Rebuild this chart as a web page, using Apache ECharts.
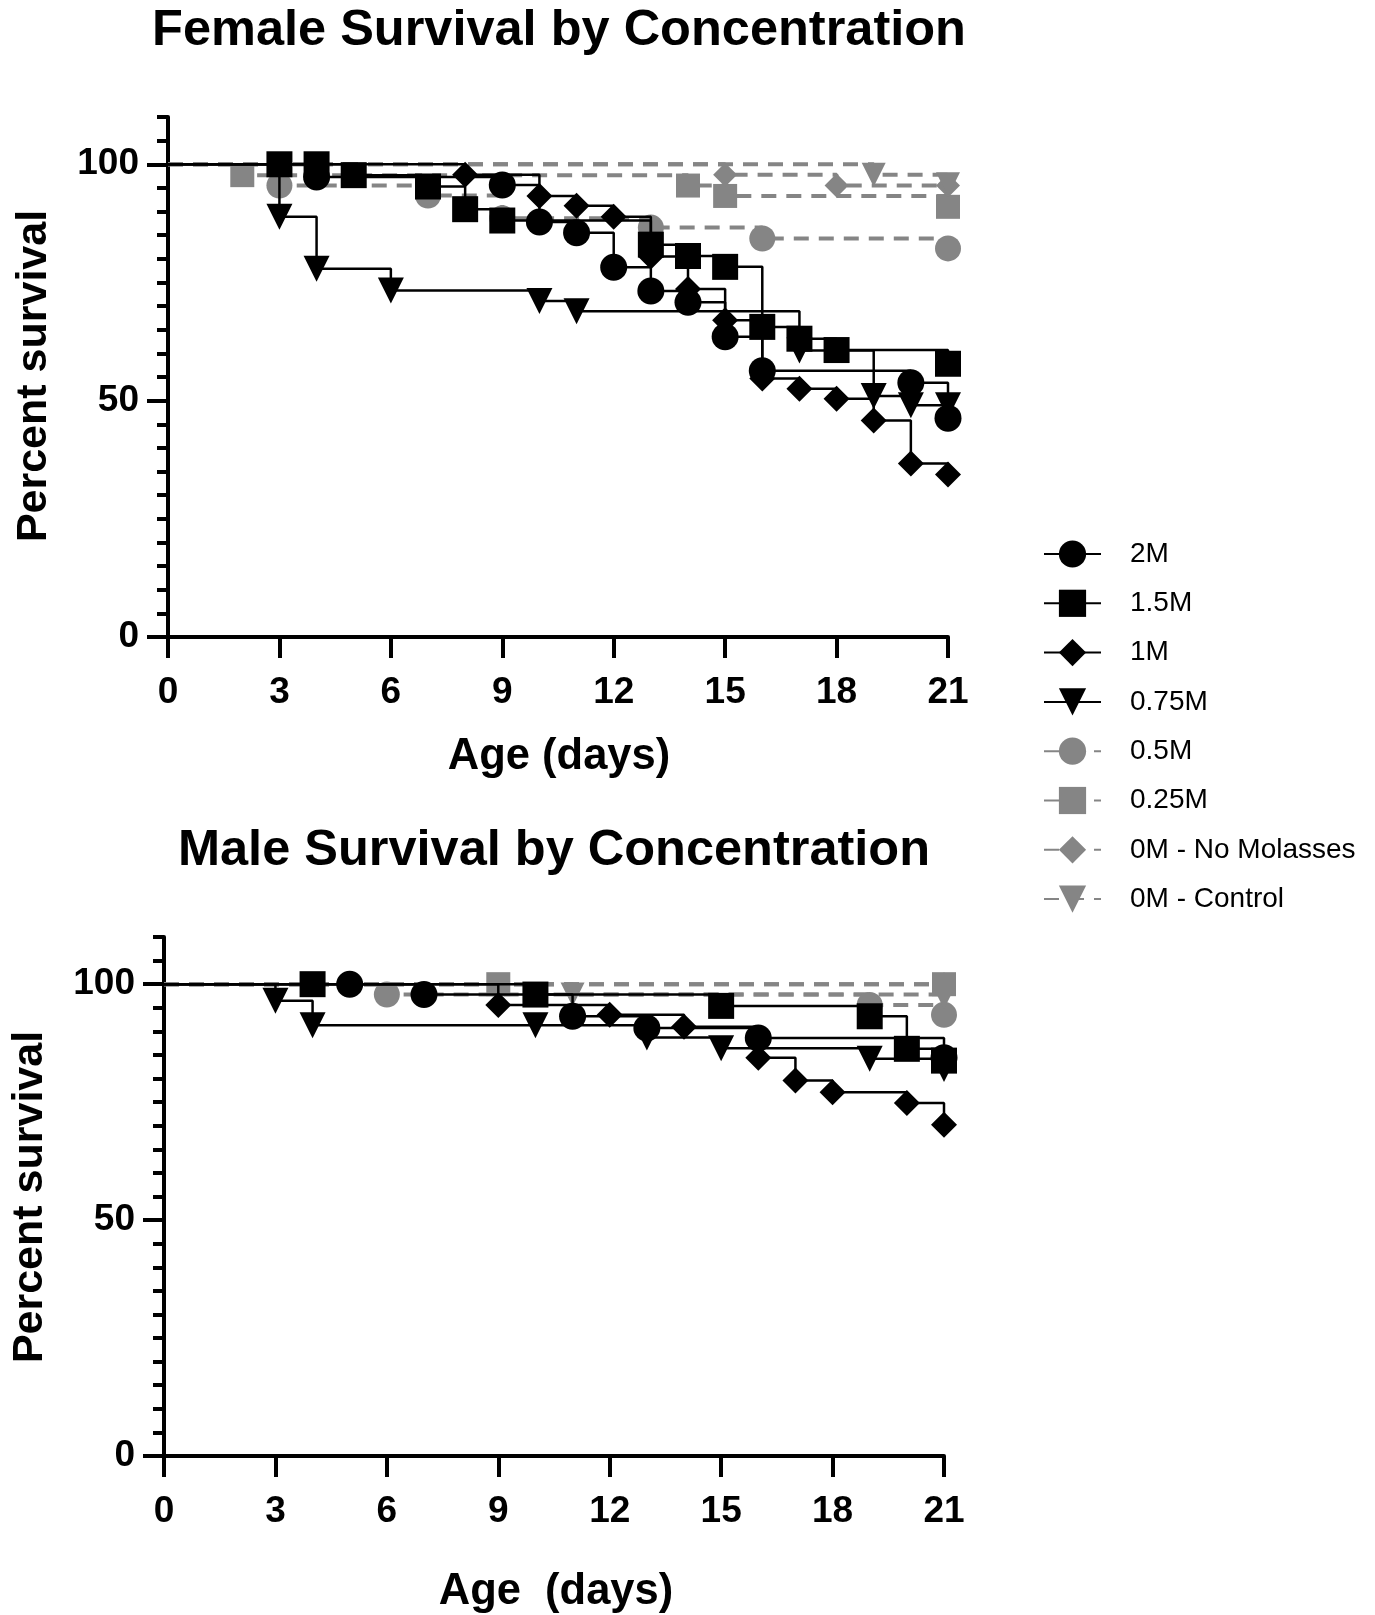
<!DOCTYPE html>
<html><head><meta charset="utf-8">
<script src="https://cdn.jsdelivr.net/npm/echarts@6/dist/echarts.min.js"></script>
<style>html,body{margin:0;padding:0;background:#fff}#c{width:1375px;height:1615px}</style>
</head><body><div id="c"></div>
<script>
// ---- data (day, percent survival) ----
const seriesNames = ['2M','1.5M','1M','0.75M','0.5M','0.25M','0M - No Molasses','0M - Control'];
const dayTicks = [0,3,6,9,12,15,18,21];
const yMajorTicks = [0,50,100];

const female2M   = [[0,100],[4,97.3],[9,95.6],[10,87.8],[11,85.5],[12,78.2],[13,73.2],[14,70.8],[15,63.5],[16,56.3],[20,53.8],[21,46.3]];
const female15M  = [[0,100],[3,100],[4,100],[5,97.7],[7,95.3],[8,90.5],[9,88.1],[13,83.0],[14,80.6],[15,78.3],[16,65.6],[17,63.1],[18,60.7],[21,57.8]];
const female1M   = [[0,100],[8,97.8],[10,93.3],[11,91.2],[12,88.9],[13,80.5],[14,73.6],[15,67.0],[16,54.7],[17,52.5],[18,50.4],[19,45.8],[20,36.7],[21,34.4]];
const female075M = [[0,100],[3,88.9],[4,77.9],[6,73.3],[10,71.1],[11,68.9],[17,60.6],[19,51.0],[20,49.0],[21,49.0]];
const female05M  = [[0,100],[3,95.5],[7,93.4],[9,88.6],[13,86.6],[16,84.3],[21,82.2]];
const female025M = [[0,100],[2,97.7],[14,95.5],[15,93.3],[21,91.0]];
const femaleNoMol= [[0,100],[15,97.8],[18,95.5],[21,95.5]];
const femaleCtrl = [[0,100],[19,97.8],[21,95.8]];

const male2M   = [[0,100],[5,100],[7,97.8],[11,93.2],[13,90.7],[16,88.6],[21,84.4]];
const male15M  = [[0,100],[4,100],[10,97.8],[15,95.4],[19,93.2],[20,86.3],[21,83.8]];
const male1M   = [[0,100],[9,95.6],[12,93.5],[14,91.0],[16,84.4],[17,79.6],[18,77.1],[20,74.8],[21,70.2]];
const male075M = [[0,100],[3,96.5],[4,91.3],[10,91.3],[13,88.7],[15,86.4],[19,84.2],[21,82.0]];
const male05M  = [[0,100],[6,97.8],[19,95.6],[21,93.5]];
const male025M = [[0,100],[9,100],[21,100]];
const maleNoMol= [[0,100],[21,100]];
const maleCtrl = [[0,100],[11,97.8],[21,97.3]];

// ---- styling ----
const FONT = '"Liberation Sans", Arial, sans-serif';
const BLACK = '#000000';
const GRAY = '#858585';
const styles = [
  {symbol:'circle',  size:27, rot:0,   color:BLACK, dashed:false},
  {symbol:'rect',    size:26, rot:0,   color:BLACK, dashed:false},
  {symbol:'diamond', size:26, rot:0,   color:BLACK, dashed:false},
  {symbol:'triangle',size:26, rot:180, color:BLACK, dashed:false},
  {symbol:'circle',  size:26, rot:0,   color:GRAY,  dashed:true},
  {symbol:'rect',    size:24, rot:0,   color:GRAY,  dashed:true},
  {symbol:'diamond', size:24, rot:0,   color:GRAY,  dashed:true},
  {symbol:'triangle',size:24, rot:180, color:GRAY,  dashed:true}
];
const femaleSets = [female2M,female15M,female1M,female075M,female05M,female025M,femaleNoMol,femaleCtrl];
const maleSets   = [male2M,male15M,male1M,male075M,male05M,male025M,maleNoMol,maleCtrl];

function mkSeries(sets, g) {
  return sets.map((pts, i) => {
    const st = styles[i];
    return {
      name: seriesNames[i], type:'line', step:'end',
      xAxisIndex:g, yAxisIndex:2*g,
      data: pts.map((p,k) => k === 0 ? {value:p, symbol:'none'} : {value:p}),
      symbol: st.symbol, symbolSize: st.size, symbolRotate: st.rot,
      showSymbol:true, showAllSymbol:true, clip:false, silent:true,
      z: st.dashed ? 2 : 3,
      lineStyle:{color:st.color, width: st.dashed ? 4 : 2.5, type: st.dashed ? [15,10] : 'solid'},
      itemStyle:{color:st.color, borderWidth:0},
      emphasis:{disabled:true}, animation:false
    };
  });
}

const grids = [
  {left:168, top:117, width:780, height:520},
  {left:164, top:937, width:780, height:519}
];

function xAx(g){
  return {type:'value', gridIndex:g, min:0, max:21, interval:3,
    axisLine:{show:true, onZero:false, lineStyle:{color:BLACK, width:4}},
    axisTick:{show:true, length:21, lineStyle:{color:BLACK, width:4}},
    axisLabel:{show:true, fontSize:37, fontWeight:'bold', color:BLACK, fontFamily:FONT, margin:37,
      customValues: dayTicks},
    splitLine:{show:false}};
}
function yMinor(g){
  return {type:'value', gridIndex:g, min:0, max:110, interval:5, position:'left',
    axisLine:{show:true, onZero:false, lineStyle:{color:BLACK, width:4}},
    axisTick:{show:true, length:11, lineStyle:{color:BLACK, width:4}},
    axisLabel:{show:false}, splitLine:{show:false}};
}
function yMajor(g){
  return {type:'value', gridIndex:g, min:0, max:110, interval:50, position:'left',
    axisLine:{show:false},
    axisTick:{show:true, length:21, lineStyle:{color:BLACK, width:4}, customValues: yMajorTicks},
    axisLabel:{show:true, fontSize:37, fontWeight:'bold', color:BLACK, fontFamily:FONT, margin:29,
      customValues: yMajorTicks},
    splitLine:{show:false}};
}

function txt(text, x, y, size, bold, rot){
  return {type:'text', x:x, y:y, rotation: rot || 0, silent:true,
    style:{text:text, fill:BLACK, font:(bold?'bold ':'') + size + 'px ' + FONT,
      align:'center', verticalAlign:'middle', textAlign:'center', textVerticalAlign:'middle'}};
}

const option = {
  animation:false,
  backgroundColor:'#ffffff',
  grid: grids,
  xAxis: [xAx(0), xAx(1)],
  yAxis: [yMinor(0), yMajor(0), yMinor(1), yMajor(1)],
  legend: {
    data: seriesNames, orient:'vertical', left:1038, top:535,
    itemWidth:57, itemHeight:34, itemGap:21.3, selectedMode:false,
    textStyle:{fontSize:28, color:BLACK, fontFamily:FONT, padding:[0,0,0,24]}
  },
  graphic: [
    txt('Female Survival by Concentration', 559, 31, 50.5, true),
    txt('Male Survival by Concentration', 554, 851, 50.5, true),
    txt('Age (days)', 559, 757, 43.5, true),
    txt('Age  (days)', 556, 1592, 43.5, true),
    txt('Percent survival', 34, 376, 43, true, Math.PI/2),
    txt('Percent survival', 30, 1197, 43, true, Math.PI/2)
  ],
  series: mkSeries(femaleSets, 0).concat(mkSeries(maleSets, 1))
};

const chart = echarts.init(document.getElementById('c'), null, {renderer:'canvas'});
chart.setOption(option);
</script>
</body></html>
